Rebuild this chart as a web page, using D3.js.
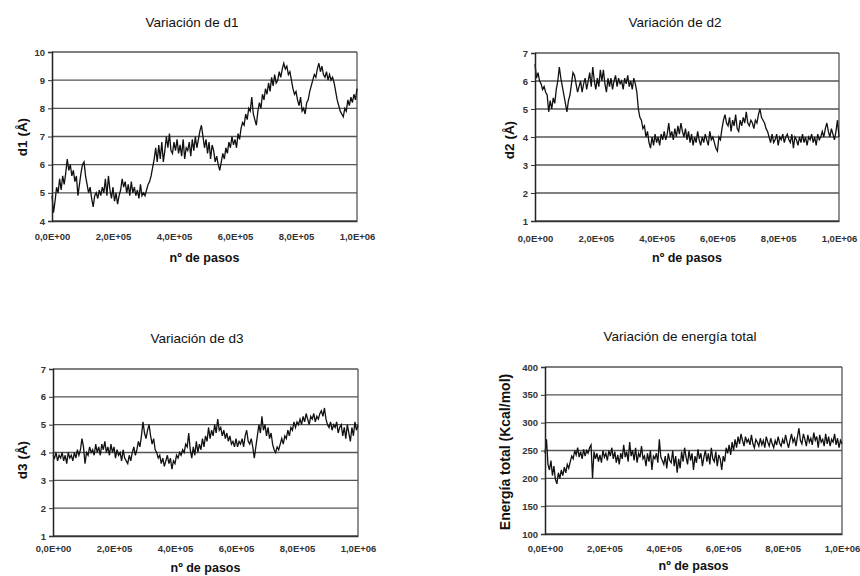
<!DOCTYPE html>
<html><head><meta charset="utf-8">
<script src="https://cdn.jsdelivr.net/npm/d3@7/dist/d3.min.js"></script>
<style>body{margin:0;background:#fff}svg{display:block}</style>
</head><body><svg id="c" width="860" height="576"></svg>
<script>
// ---------- data ----------
const stepSize = 5000;            // steps between consecutive samples
const xTickValues = [0, 200000, 400000, 600000, 800000, 1000000];
const xTickLabels = ["0,0E+00", "2,0E+05", "4,0E+05", "6,0E+05", "8,0E+05", "1,0E+06"];
const xAxisLabel = "nº de pasos";

const titles = ["Variación de d1", "Variación de d2", "Variación de d3", "Variación de energía total"];
const yLabels = ["d1 (Å)", "d2 (Å)", "d3 (Å)", "Energía total (Kcal/mol)"];

const d1Ticks = [4, 5, 6, 7, 8, 9, 10];
const d2Ticks = [1, 2, 3, 4, 5, 6, 7];
const d3Ticks = [1, 2, 3, 4, 5, 6, 7];
const energyTicks = [100, 150, 200, 250, 300, 350, 400];

const d1Values = [
 4.9,4.3,4.7,5.2,5.0,5.5,5.1,5.6,5.3,5.7,
 6.2,5.8,6.0,5.6,5.8,5.4,5.6,4.9,5.3,5.7,
 6.0,6.1,5.6,5.3,5.0,5.2,4.8,4.5,4.9,5.0,
 4.8,5.1,4.9,5.2,5.0,5.5,4.9,5.6,5.1,4.8,
 5.2,4.7,5.0,4.6,4.9,5.1,5.5,5.2,5.4,5.0,
 5.3,4.9,5.4,5.0,5.2,4.9,5.1,4.8,5.3,4.9,
 5.0,4.9,5.1,5.3,5.4,5.6,5.9,6.2,6.6,6.1,
 6.7,6.2,6.8,6.1,6.5,7.0,6.6,7.1,6.5,6.4,
 6.8,6.5,6.9,6.4,6.7,6.3,6.9,6.2,6.6,6.5,
 6.8,6.3,6.9,6.5,7.0,6.6,6.9,7.2,7.4,7.0,
 6.6,6.9,6.4,6.8,6.2,6.7,6.5,6.1,6.3,6.0,
 5.8,6.1,6.4,6.2,6.6,6.4,6.8,6.6,7.0,6.7,
 6.9,6.6,7.1,6.9,7.3,7.5,7.4,7.8,7.6,8.0,
 7.9,8.4,7.8,7.6,7.4,7.9,8.2,8.0,8.5,8.3,
 8.7,8.5,8.9,8.6,9.1,8.8,9.2,8.9,9.0,9.3,
 9.1,9.4,9.6,9.4,9.5,9.2,9.3,9.0,8.7,8.5,
 8.6,8.3,8.1,8.4,7.9,8.0,7.8,8.2,8.3,8.6,
 8.8,9.0,9.2,9.1,9.4,9.6,9.3,9.5,9.2,9.1,
 9.3,9.0,9.2,9.0,9.1,8.9,8.6,8.3,8.1,7.9,
 7.8,7.7,8.0,7.9,8.3,8.1,8.4,8.2,8.5,8.3,8.7
];

const d2Values = [
 6.6,6.1,6.3,6.0,5.9,5.7,5.8,5.6,5.5,4.9,
 5.3,5.0,5.4,5.2,5.7,6.0,6.5,6.1,5.8,5.5,
 5.2,4.9,5.3,5.5,5.9,6.3,6.2,5.9,5.6,5.8,
 6.0,5.6,5.9,6.1,5.7,6.0,6.3,5.8,6.5,6.0,
 5.7,6.1,5.8,6.4,6.0,6.4,5.9,5.6,6.1,5.8,
 6.1,5.7,6.0,6.2,5.8,6.1,5.9,6.0,5.7,6.1,
 5.9,6.2,5.8,6.0,5.7,6.1,5.9,5.6,5.0,4.7,
 4.6,4.3,4.4,4.0,4.2,3.8,3.6,4.0,3.7,4.1,
 3.8,4.0,3.7,4.1,3.9,4.2,3.9,4.1,4.5,4.0,
 4.2,3.9,4.3,4.0,4.4,4.1,4.5,4.2,4.0,4.3,
 3.9,4.2,3.8,4.1,3.7,4.0,3.8,4.2,3.9,3.7,
 4.0,3.8,4.1,3.9,3.7,4.2,3.9,4.0,3.8,3.6,
 3.5,4.0,3.9,4.3,4.6,4.8,4.5,4.4,4.7,4.2,
 4.6,4.4,4.8,4.3,4.2,4.6,4.4,4.7,4.5,4.9,
 4.5,4.4,4.6,4.5,4.3,4.6,4.5,4.8,5.0,4.7,
 4.6,4.5,4.3,4.2,4.0,3.8,4.1,3.8,3.9,4.1,
 3.7,4.0,3.9,4.1,3.8,4.0,4.1,3.9,3.8,4.1,
 3.6,4.0,3.9,3.7,4.0,3.8,4.1,3.8,4.0,3.7,
 4.0,3.9,4.1,3.8,4.0,3.7,4.1,3.9,4.0,4.2,
 4.0,4.3,4.5,4.2,4.0,4.3,4.1,3.9,4.2,4.6,4.0
];

const d3Values = [
 3.9,3.8,4.0,3.7,3.9,3.8,4.0,3.7,3.9,3.6,
 4.0,3.8,3.9,3.7,4.0,3.8,4.1,3.9,4.1,4.5,
 4.2,3.6,4.0,3.9,4.2,4.0,4.1,3.9,4.3,4.0,
 4.2,3.9,4.3,4.1,4.4,4.0,4.2,3.9,4.3,4.0,
 4.2,3.8,4.1,3.9,4.0,3.7,4.1,3.8,3.7,3.6,
 3.9,3.7,4.0,4.2,3.9,4.1,4.4,4.2,4.6,5.1,
 4.7,4.5,4.8,5.0,4.6,4.3,4.5,4.1,4.0,3.8,
 3.9,3.6,3.8,3.5,3.7,3.9,3.6,3.8,3.4,3.7,
 3.6,3.9,3.8,4.0,3.9,4.1,4.0,4.3,4.2,4.7,
 4.1,3.8,4.2,3.9,4.4,4.0,4.3,4.1,4.5,4.2,
 4.6,4.4,4.9,4.5,4.8,4.6,5.0,4.7,5.2,4.8,
 4.9,4.6,4.8,4.5,4.7,4.4,4.6,4.3,4.4,4.2,
 4.5,4.2,4.4,4.3,4.5,4.2,4.6,4.8,4.4,4.3,
 4.5,4.2,3.8,4.2,4.6,5.0,4.7,5.3,4.8,5.0,
 4.6,4.9,4.5,4.7,4.3,4.1,4.0,4.2,4.1,4.3,
 4.5,4.3,4.6,4.5,4.8,4.6,4.9,4.8,5.1,4.9,
 5.1,5.0,5.2,5.0,5.3,5.1,5.4,5.2,5.0,5.3,
 5.2,5.4,5.1,5.3,5.2,5.4,5.5,5.3,5.6,5.2,
 5.0,4.9,5.1,4.8,5.0,4.9,5.1,4.7,4.9,5.0,
 4.6,4.9,4.5,5.0,4.7,4.4,4.9,4.6,5.1,4.8,5.0
];

const energyValues = [
 245,270,225,215,232,205,222,198,190,210,
 200,215,205,220,210,225,218,230,240,235,
 250,242,255,238,248,235,252,240,250,245,
 255,260,200,248,235,245,230,242,228,250,
 238,245,232,250,240,255,235,248,228,242,
 225,245,235,260,238,248,230,265,240,250,
 232,255,228,245,238,258,235,240,222,245,
 230,250,215,240,235,245,228,270,238,232,
 225,240,218,245,232,228,250,222,240,210,
 235,218,248,230,255,238,225,250,232,245,
 215,240,228,252,235,245,222,238,250,230,
 245,225,255,235,230,248,222,242,235,215,
 240,230,255,245,260,242,265,250,270,255,
 275,262,280,268,258,275,265,270,260,278,
 262,255,270,265,258,272,260,268,255,275,
 265,258,272,262,255,268,260,275,263,258,
 270,262,278,265,255,268,280,265,272,258,
 275,290,268,262,280,270,258,278,265,272,
 260,282,268,275,255,278,265,270,258,280,
 262,275,258,270,265,280,260,272,255,268,262
];

// ---------- layout ----------
const panels = [
  {values: d1Values, ticks: d1Ticks, title: titles[0], ylabel: yLabels[0], ylabSize: 13.5,
   x0: 52, x1: 357, yTop: 52, yBot: 221, titleX: 192, titleY: 27, ylabX: 23, ylabY: 137,
   tickLabY: 240, xlabY: 262},
  {values: d2Values, ticks: d2Ticks, title: titles[1], ylabel: yLabels[1], ylabSize: 13.5,
   x0: 535, x1: 839, yTop: 53, yBot: 221, titleX: 675, titleY: 27, ylabX: 510, ylabY: 140,
   tickLabY: 242, xlabY: 262},
  {values: d3Values, ticks: d3Ticks, title: titles[2], ylabel: yLabels[2], ylabSize: 13.5,
   x0: 53, x1: 358, yTop: 369, yBot: 536, titleX: 197, titleY: 343, ylabX: 23, ylabY: 460,
   tickLabY: 552, xlabY: 572},
  {values: energyValues, ticks: energyTicks, title: titles[3], ylabel: yLabels[3], ylabSize: 14,
   x0: 545, x1: 842, yTop: 367, yBot: 534, titleX: 680, titleY: 341, ylabX: 506, ylabY: 452,
   tickLabY: 552, xlabY: 570}
];

const FONT = "'Liberation Sans', Arial, sans-serif";
const svg = d3.select("#c");
svg.append("rect").attr("width", 860).attr("height", 576).attr("fill", "#fff");

panels.forEach(p => {
  const g = svg.append("g");
  const x = d3.scaleLinear().domain([0, 1000000]).range([p.x0, p.x1]);
  const y = d3.scaleLinear().domain([p.ticks[0], p.ticks[p.ticks.length - 1]]).range([p.yBot, p.yTop]);

  // gridlines
  g.selectAll("line.grid").data(p.ticks).enter().append("line")
    .attr("x1", p.x0).attr("x2", p.x1)
    .attr("y1", d => y(d)).attr("y2", d => y(d))
    .attr("stroke", "#555").attr("stroke-width", 1.4);

  // right border of plot area
  g.append("line").attr("x1", p.x1).attr("x2", p.x1).attr("y1", p.yTop).attr("y2", p.yBot)
    .attr("stroke", "#555").attr("stroke-width", 1.3);

  // data line
  const line = d3.line().x((d, i) => x(i * stepSize)).y(d => y(d));
  g.append("path").datum(p.values).attr("d", line)
    .attr("fill", "none").attr("stroke", "#111").attr("stroke-width", 1.3)
    .attr("stroke-linejoin", "miter");

  // y axis
  const ya = g.append("g").attr("transform", `translate(${p.x0},0)`)
    .call(d3.axisLeft(y).tickValues(p.ticks).tickSize(4).tickPadding(3).tickFormat(d3.format("d")));
  ya.select(".domain").attr("stroke", "#222").attr("stroke-width", 1.5);
  ya.selectAll(".tick line").attr("stroke", "#333");
  ya.selectAll("text").attr("font-family", FONT).attr("font-size", 9.5).attr("font-weight", "bold").attr("fill", "#333");

  // x axis (bottom)
  const xa = g.append("g").attr("transform", `translate(0,${p.yBot})`)
    .call(d3.axisBottom(x).tickValues(xTickValues).tickSize(0).tickPadding(0)
      .tickFormat((d, i) => xTickLabels[i]));
  xa.select(".domain").attr("stroke", "#333").attr("stroke-width", 1.4);
  xa.selectAll("text").attr("font-family", FONT).attr("font-size", 9.5).attr("font-weight", "bold").attr("fill", "#333")
    .attr("dy", null).attr("y", p.tickLabY - p.yBot);

  // titles and labels
  svg.append("text").attr("x", p.titleX).attr("y", p.titleY).attr("text-anchor", "middle")
    .attr("font-family", FONT).attr("font-size", 13.5).attr("fill", "#111").text(p.title);
  svg.append("text").attr("x", (p.x0 + p.x1) / 2).attr("y", p.xlabY).attr("text-anchor", "middle")
    .attr("font-family", FONT).attr("font-size", 12.5).attr("font-weight", "bold").attr("fill", "#111")
    .text(xAxisLabel);
  svg.append("text").attr("transform", `translate(${p.ylabX + 4},${p.ylabY}) rotate(-90)`)
    .attr("text-anchor", "middle")
    .attr("font-family", FONT).attr("font-size", p.ylabSize).attr("font-weight", "bold").attr("fill", "#111")
    .text(p.ylabel);
});
</script></body></html>
